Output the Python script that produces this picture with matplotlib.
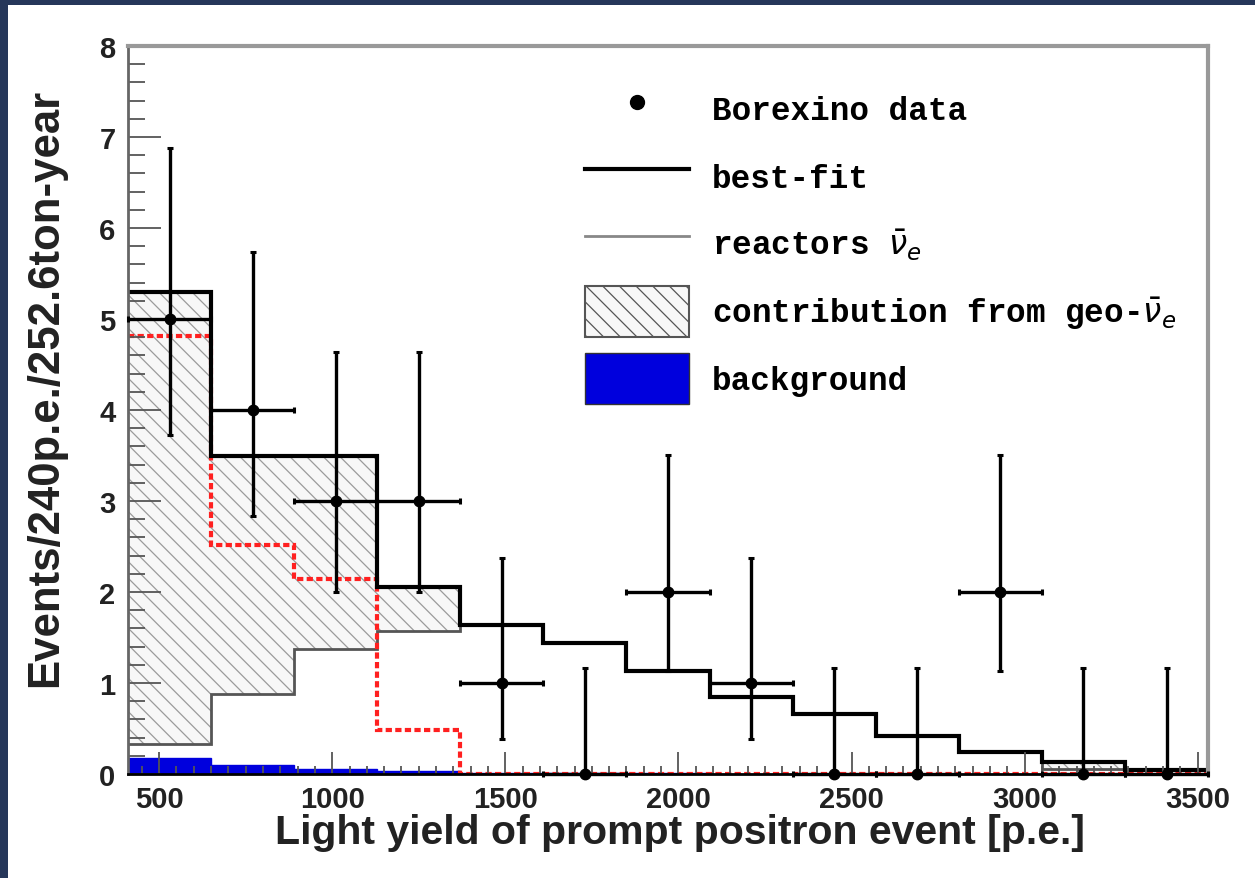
import matplotlib
matplotlib.use('Agg')
import numpy as np
import matplotlib.pyplot as plt
from matplotlib.patches import Rectangle, Patch
from matplotlib.lines import Line2D
from matplotlib.ticker import MultipleLocator

# bins of 240 p.e.
edges = [410, 650, 890, 1130, 1370, 1610, 1850, 2090, 2330, 2570, 2810, 3050, 3290, 3530]
centers = [530, 770, 1010, 1250, 1490, 1730, 1970, 2210, 2450, 2690, 2930, 3170, 3410]

# Borexino data with asymmetric errors
counts = [5, 4, 3, 3, 1, 0, 2, 1, 0, 0, 2, 0, 0]
err_low = [3.73, 2.84, 2.0, 2.0, 0.38, 0, 1.13, 0.38, 0, 0, 1.13, 0, 0]
err_high = [6.88, 5.74, 4.64, 4.64, 2.37, 1.17, 3.51, 2.37, 1.17, 1.17, 3.51, 1.17, 1.17]

# model histograms
best_fit = [5.30, 3.50, 3.50, 2.05, 1.64, 1.44, 1.13, 0.85, 0.66, 0.42, 0.24, 0.135, 0.04]
reactors = [0.33, 0.88, 1.37, 1.57, 1.64, 1.44, 1.13, 0.85, 0.66, 0.42, 0.24, 0.05, 0.04]
geo_only = [4.81, 2.52, 2.14, 0.48, 0, 0, 0, 0, 0, 0, 0, 0, 0]
background = [0.18, 0.10, 0.06, 0.03, 0.015, 0.01, 0.01, 0, 0, 0, 0, 0, 0]

plt.rcParams['font.family'] = ['Liberation Sans', 'DejaVu Sans']
plt.rcParams['hatch.linewidth'] = 0.9

fig = plt.figure(figsize=(12.55, 8.79), dpi=100, facecolor='#26375a')
fig.patches.append(Rectangle((8 / 1255, 0), 1, 1 - 6 / 879, transform=fig.transFigure,
                             facecolor='white', edgecolor='none', zorder=-10))
ax = fig.add_axes([0.102, 0.1183, 0.8606, 0.8282])
ax.set_zorder(1)

ax.stairs(best_fit, edges, baseline=reactors, fill=True, facecolor='#f7f7f7',
          edgecolor='#9a9a9a', hatch='\\\\', linewidth=0)
ax.stairs(background, edges, fill=True, facecolor='#0000dd', edgecolor='#0000dd', lw=1)
ax.stairs(reactors, edges, baseline=None, color='#555555', lw=2)
ax.stairs(geo_only, edges, baseline=None, color='#ff2020', lw=3, linestyle=(0, (1.5, 0.8)))
ax.stairs(best_fit, edges, baseline=None, color='black', lw=3)

xerr = np.diff(edges) / 2
yerr = [np.array(counts) - np.array(err_low), np.array(err_high) - np.array(counts)]
ax.errorbar(centers, counts, xerr=xerr, yerr=yerr, fmt='o', color='black', ms=7.5,
            lw=2.4, capsize=2.5, capthick=2.2, clip_on=False, zorder=5)

ax.set_xlim(410, 3530)
ax.set_ylim(0, 8)
ax.xaxis.set_major_locator(MultipleLocator(500))
ax.xaxis.set_minor_locator(MultipleLocator(50))
ax.yaxis.set_major_locator(MultipleLocator(1))
ax.yaxis.set_minor_locator(MultipleLocator(0.2))
ax.tick_params(axis='both', which='both', direction='in', colors='#555555', width=1.3,
               labelcolor='#222222', labelsize=21)
ax.tick_params(axis='y', which='major', length=24, pad=9)
ax.tick_params(axis='y', which='minor', length=12)
ax.tick_params(axis='x', which='major', length=16, pad=8)
ax.tick_params(axis='x', which='minor', length=6)
for lbl in ax.get_xticklabels() + ax.get_yticklabels():
    lbl.set_fontweight('bold')

for side in ['top', 'right']:
    ax.spines[side].set_color('#999999')
    ax.spines[side].set_linewidth(3)
ax.spines['left'].set_color('#666666')
ax.spines['left'].set_linewidth(2)
ax.spines['bottom'].set_color('black')
ax.spines['bottom'].set_linewidth(2)

ax.set_xlabel('Light yield of prompt positron event [p.e.]', fontsize=29.5,
              fontweight='bold', color='#222222')
ax.xaxis.set_label_coords(0.511, -0.054)
ax.set_ylabel('Events/240p.e./252.6ton-year', fontsize=31.5,
              fontweight='bold', color='#222222')
ax.yaxis.set_label_coords(-0.057, 0.532)

handles = [
    Line2D([], [], marker='o', ls='none', color='black', ms=10),
    Line2D([], [], color='black', lw=3),
    Line2D([], [], color='#888888', lw=2),
    Patch(facecolor='#f7f7f7', edgecolor='#555555', hatch='\\\\', lw=1.5),
    Patch(facecolor='#0000dd', edgecolor='#333333', lw=1),
]
labels = ['Borexino data', 'best-fit', r'reactors $\bar{\nu}_e$',
          r'contribution from geo-$\bar{\nu}_e$', 'background']
ax.legend(handles, labels, loc='upper left', bbox_to_anchor=(0.423, 0.948), frameon=False,
          prop={'family': 'Liberation Mono', 'weight': 'bold', 'size': 23.5},
          handlelength=3.2, handleheight=2.0, handletextpad=0.7, labelspacing=0.52,
          borderpad=0, borderaxespad=0)

fig.savefig('out.png', dpi=100, facecolor=fig.get_facecolor())
